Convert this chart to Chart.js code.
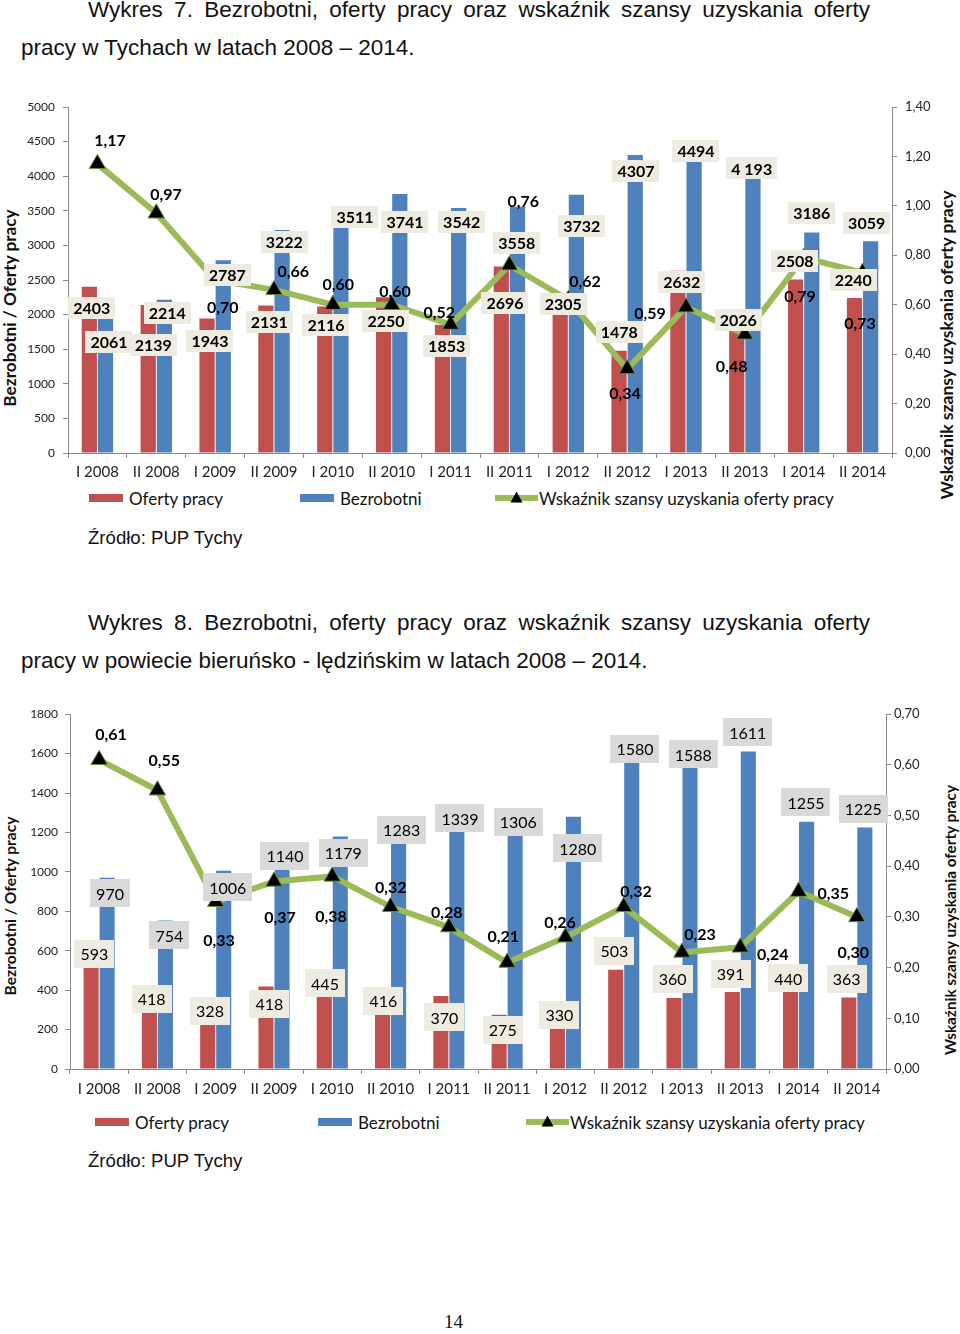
<!DOCTYPE html>
<html>
<head>
<meta charset="utf-8">
<script src="https://cdn.jsdelivr.net/npm/chart.js@4/dist/chart.umd.min.js"></script>
<style>
  html, body { margin:0; padding:0; background:#fff; }
  body { width:960px; height:1334px; position:relative; overflow:hidden; font-family:'Liberation Sans', Arial, sans-serif; color:#111; }
  .abs { position:absolute; white-space:nowrap; }
  .title { font-size:22.5px; line-height:22px; }
  .just { left:88px; width:782px; text-align:justify; text-align-last:justify; }
  .src { font-size:18.6px; line-height:18px; left:88px; }
  .axt { font-family:Lato, sans-serif; font-weight:bold; text-align:center; transform:rotate(-90deg); transform-origin:50% 50%; width:400px; color:#111; }
  .leg { display:flex; align-items:center; height:22px; font-family:Lato, sans-serif; font-size:17px; color:#111; }
  .sw { display:inline-block; width:34px; height:8px; margin-right:6px; }
  canvas { position:absolute; left:0; }
</style>
</head>
<body>

<div class="abs title just" style="top:-1px;">Wykres 7. Bezrobotni, oferty pracy oraz wskaźnik szansy uzyskania oferty</div>
<div class="abs title" style="top:37px; left:21px;">pracy w Tychach w latach 2008 – 2014.</div>

<div class="abs axt" style="left:-190px; top:298px; font-size:17.2px; line-height:20px;">Bezrobotni / Oferty pracy</div>
<div class="abs axt" style="left:747px; top:335px; font-size:17.5px; line-height:20px;">Wskaźnik szansy uzyskania oferty pracy</div>

<canvas id="c1" width="960" height="395" style="top:90px;width:960px;height:395px;"></canvas>
<div id="leg1"></div>

<div class="abs src" style="top:529px;">Źródło: PUP Tychy</div>

<div class="abs title just" style="top:612px;">Wykres 8. Bezrobotni, oferty pracy oraz wskaźnik szansy uzyskania oferty</div>
<div class="abs title" style="top:650px; left:21px;">pracy w powiecie bieruńsko - lędzińskim w latach 2008 – 2014.</div>

<div class="abs axt" style="left:-190px; top:897px; font-size:15.6px; line-height:18px;">Bezrobotni / Oferty pracy</div>
<div class="abs axt" style="left:750px; top:911px; font-size:15.3px; line-height:18px;">Wskaźnik szansy uzyskania oferty pracy</div>

<canvas id="c2" width="960" height="410" style="top:700px;width:960px;height:410px;"></canvas>
<div id="leg2"></div>

<div class="abs src" style="top:1152px;">Źródło: PUP Tychy</div>

<div class="abs" style="left:444px; top:1312px; font-family:'Liberation Serif', serif; font-size:19px; line-height:19px;">14</div>

<script>
// ---------- DATA ----------
const categories = ['I 2008','II 2008','I 2009','II 2009','I 2010','II 2010','I 2011','II 2011','I 2012','II 2012','I 2013','II 2013','I 2014','II 2014'];

// Wykres 7 – Tychy
const tychyOffers      = [2403, 2139, 1943, 2131, 2116, 2250, 1853, 2696, 2305, 1478, 2632, 2026, 2508, 2240];
const tychyUnemployed  = [2061, 2214, 2787, 3222, 3511, 3741, 3542, 3558, 3732, 4307, 4494, 4193, 3186, 3059];
const tychyUnemployedText = ['2061','2214','2787','3222','3511','3741','3542','3558','3732','4307','4494','4 193','3186','3059'];
const tychyRatio       = [1.17, 0.97, 0.70, 0.66, 0.60, 0.60, 0.52, 0.76, 0.62, 0.34, 0.59, 0.48, 0.79, 0.73];
const tychyLeftTicks   = [0, 500, 1000, 1500, 2000, 2500, 3000, 3500, 4000, 4500, 5000];
const tychyRightTicks  = [0, 0.2, 0.4, 0.6, 0.8, 1.0, 1.2, 1.4];

// Wykres 8 – powiat bieruńsko-lędziński
const bierunOffers     = [593, 418, 328, 418, 445, 416, 370, 275, 330, 503, 360, 391, 440, 363];
const bierunUnemployed = [970, 754, 1006, 1140, 1179, 1283, 1339, 1306, 1280, 1580, 1588, 1611, 1255, 1225];
const bierunRatio      = [0.61, 0.55, 0.33, 0.37, 0.38, 0.32, 0.28, 0.21, 0.26, 0.32, 0.23, 0.24, 0.35, 0.30];
const bierunLeftTicks  = [0, 200, 400, 600, 800, 1000, 1200, 1400, 1600, 1800];
const bierunRightTicks = [0, 0.1, 0.2, 0.3, 0.4, 0.5, 0.6, 0.7];

const seriesNames = ['Oferty pracy', 'Bezrobotni', 'Wskaźnik szansy uzyskania oferty pracy'];

// ---------- STYLE / LABEL PLACEMENT (pixel offsets of each label from its anchor) ----------
const RED = '#C0504D', BLUE = '#4F81BD', GREEN = '#9BBB59';
const AXIS = '#8a8a8a';

const lab1 = {
  offDx: [-5.7,-3,-5.1,-4.7,-6.8,-5.7,-3.9,-4.4,-5,-7.8,-4.3,-6.6,-8.7,-9.3],
  offDy: [21.6,40,22.2,16.2,18.4,23.7,20.9,36.9,10.5,-19,10.8,7.2,-18.4,-18],
  unDx:  [11.6,11,12.2,10.3,22.2,13.3,11.1,7.3,13.4,8.9,10,6.8,8,4.1],
  unDy:  [31.9,12.9,14.9,11.7,6.7,27.6,13.8,36.5,31.3,15.7,9,5.5,-19.2,-18],
  raDx:  [12.6,9.7,7.6,19.3,5.5,3.3,-11.3,13.9,16.7,-2.1,-36,-13.2,-3.7,-2.6],
  raDy:  [-23.8,-19,26.7,-18.9,-20.4,-13.7,-12.2,-64.2,-18.8,24,6.1,31.6,38.2,50.1]
};
const lab2 = {
  offDx: [-4.8,-5.7,-5.7,-4.7,-7.3,-7.3,-4.5,-4.4,-6.1,-9.4,-9.3,-9.6,-10.3,-10.2],
  offDy: [1.9,12.4,6.4,17.4,2.1,13.7,21.3,15.2,11.1,-19.1,-18.7,-17.9,-3.9,-18.4],
  unDx:  [10.9,11.9,12,11,11,11.1,11.2,11.2,12.3,11.3,11.3,7.4,7.4,6.4],
  unDy:  [15.6,15,16.7,11.8,16.2,14,13.4,10.3,31.7,-8.4,-1.5,-19,-19.2,-18.4],
  raDx:  [11.9,6.9,3.3,6,-1.3,0.1,-2.1,-3.8,-5.4,12.3,18,32.4,34.7,-3.6],
  raDy:  [-26.3,-30.1,37.7,35.3,39.7,-20,-15.3,-26.5,-15.4,-15.7,-18.1,6,1.2,34.8]
};

const fmtComma = v => v.toFixed(2).replace('.', ',');

// ---------- PLUGIN: data labels ----------
const valueLabels = {
  id: 'valueLabels',
  afterDatasetsDraw(chart, args, opts) {
    const ctx = chart.ctx;
    const xs = chart.scales.x;
    ctx.save();
    (opts.sets || []).forEach(s => {
      const scale = chart.scales[s.axis];
      const data = chart.data.datasets[s.dataset].data;
      data.forEach((v, i) => {
        const text = s.texts ? s.texts[i] : s.format(v);
        const cx = xs.getPixelForValue(i) + s.dx[i];
        const cy = scale.getPixelForValue(v) + s.dy[i];
        ctx.font = s.font;
        const w = ctx.measureText(text).width;
        if (s.bg) {
          ctx.fillStyle = s.bg;
          ctx.fillRect(Math.round(cx - w / 2 - s.padX), Math.round(cy - s.h / 2), Math.round(w + 2 * s.padX), s.h);
        }
        ctx.fillStyle = '#000';
        ctx.textAlign = 'center';
        ctx.textBaseline = 'middle';
        ctx.fillText(text, cx, cy + 1);
      });
    });
    ctx.restore();
  }
};

function buildChart(id, cfg) {
  return new Chart(document.getElementById(id), {
    type: 'bar',
    data: {
      labels: categories,
      datasets: [
        { type: 'bar', label: seriesNames[0], data: cfg.offers, backgroundColor: RED, yAxisID: 'y', order: 2,
          categoryPercentage: 0.55, barPercentage: 0.94 },
        { type: 'bar', label: seriesNames[1], data: cfg.unemployed, backgroundColor: BLUE, yAxisID: 'y', order: 2,
          categoryPercentage: 0.55, barPercentage: 0.94 },
        { type: 'line', label: seriesNames[2], data: cfg.ratio, yAxisID: 'y2', order: 0,
          borderColor: GREEN, borderWidth: 6, tension: 0, fill: false,
          pointStyle: 'triangle', pointRadius: 9.5, pointBackgroundColor: '#000',
          pointBorderColor: '#6e8f3a', pointBorderWidth: 1 }
      ]
    },
    options: {
      responsive: false,
      animation: false,
      devicePixelRatio: 1,
      layout: { padding: { top: cfg.padTop, left: 0, right: 0, bottom: 0 } },
      plugins: {
        legend: { display: false },
        tooltip: { enabled: false },
        valueLabels: { sets: cfg.labelSets }
      },
      scales: {
        x: {
          offset: true,
          grid: { offset: true, drawOnChartArea: false, drawTicks: true, tickLength: 5, color: AXIS },
          border: { display: true, color: AXIS, width: 1 },
          ticks: { font: { family: 'Lato', size: 15 }, color: '#222', padding: cfg.xPad, maxRotation: 0, autoSkip: false },
          afterFit(s) { s.height = cfg.xHeight; }
        },
        y: {
          position: 'left',
          min: 0, max: cfg.leftTicks[cfg.leftTicks.length - 1],
          afterBuildTicks(s) { s.ticks = cfg.leftTicks.map(v => ({ value: v })); },
          grid: { drawOnChartArea: false, drawTicks: true, tickLength: 5, color: AXIS },
          border: { display: true, color: AXIS, width: 1 },
          ticks: { font: { family: 'Lato', size: 12 }, color: '#222', padding: cfg.yPad, callback: v => String(v) },
          afterFit(s) { s.width = cfg.leftWidth; }
        },
        y2: {
          position: 'right',
          min: 0, max: cfg.rightTicks[cfg.rightTicks.length - 1],
          afterBuildTicks(s) { s.ticks = cfg.rightTicks.map(v => ({ value: v })); },
          grid: { drawOnChartArea: false, drawTicks: true, tickLength: 5, color: AXIS },
          border: { display: true, color: AXIS, width: 1 },
          ticks: { font: { family: 'Lato', size: 13 }, color: '#222', padding: cfg.y2Pad, callback: v => fmtComma(v) },
          afterFit(s) { s.width = cfg.rightWidth; }
        }
      }
    },
    plugins: [valueLabels]
  });
}

function labelSets(lab, o) {
  return [
    { dataset: 0, axis: 'y', dx: lab.offDx, dy: lab.offDy, font: o.barFont, bg: o.offBg, padX: o.padX, h: o.h, format: v => String(v) },
    { dataset: 1, axis: 'y', dx: lab.unDx, dy: lab.unDy, font: o.barFont, bg: o.unBg, padX: o.padX, h: o.h, format: v => String(v), texts: o.unTexts },
    { dataset: 2, axis: 'y2', dx: lab.raDx, dy: lab.raDy, font: 'bold 16px Lato', bg: null, format: fmtComma }
  ];
}

buildChart('c1', {
  offers: tychyOffers, unemployed: tychyUnemployed, ratio: tychyRatio,
  leftTicks: tychyLeftTicks, rightTicks: tychyRightTicks,
  padTop: 17, xHeight: 32, leftWidth: 68, rightWidth: 68, xPad: 5, yPad: 8, y2Pad: 8,
  labelSets: labelSets(lab1, { barFont: 'bold 16px Lato', offBg: '#EEECE1', unBg: '#EEECE1', padX: 5, h: 22, unTexts: tychyUnemployedText })
});

buildChart('c2', {
  offers: bierunOffers, unemployed: bierunUnemployed, ratio: bierunRatio,
  leftTicks: bierunLeftTicks, rightTicks: bierunRightTicks,
  padTop: 14, xHeight: 41, leftWidth: 70, rightWidth: 74, xPad: 6, yPad: 7, y2Pad: 3,
  labelSets: labelSets(lab2, { barFont: '16px Lato', offBg: '#EEECE1', unBg: '#D9D9D9', padX: 6, h: 28 })
});

// ---------- HTML legends ----------
function legend(containerId, y, xs) {
  const el = document.getElementById(containerId);
  const items = [
    `<span class="sw" style="background:${RED}"></span>${seriesNames[0]}`,
    `<span class="sw" style="background:${BLUE}"></span>${seriesNames[1]}`,
    `<svg width="43" height="16" style="margin-right:1px"><line x1="0" y1="8" x2="43" y2="8" stroke="${GREEN}" stroke-width="6"/><polygon points="21.5,1.5 27.5,12.5 15.5,12.5" fill="#000"/></svg>${seriesNames[2]}`
  ];
  el.innerHTML = items.map((h, i) => `<div class="abs leg" style="left:${xs[i]}px; top:${y - 11}px;">${h}</div>`).join('');
}
legend('leg1', 498, [89, 300, 495]);
legend('leg2', 1122, [95, 318, 526]);
</script>
</body>
</html>
